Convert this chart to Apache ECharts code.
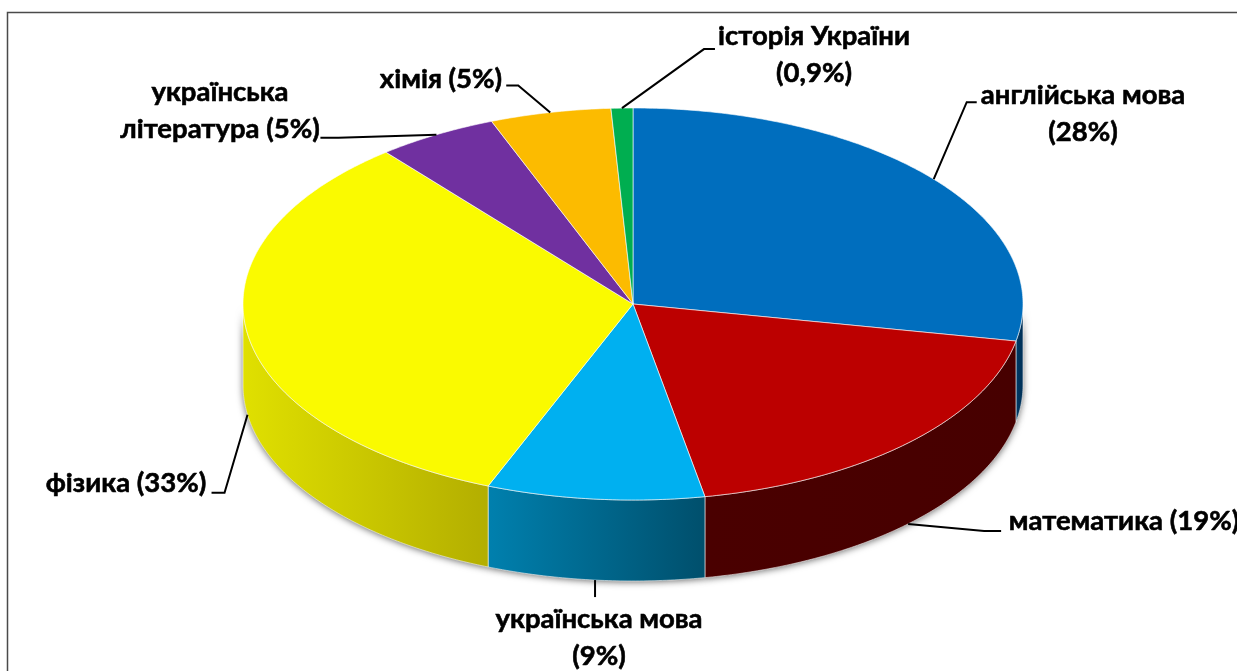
<!DOCTYPE html>
<html>
<head>
<meta charset="utf-8">
<title>pie</title>
<style>
html,body{margin:0;padding:0;background:#fff;}
#main{width:1237px;height:671px;}
</style>
<script src="https://cdn.jsdelivr.net/npm/echarts@6/dist/echarts.min.js"></script>
</head>
<body>
<div id="main"></div>
<script>
// значення зчитані з підписів діаграми
let categories = ['англійська мова','математика','українська мова','фізика','українська література','хімія','історія України'];
let shares = [28,19,9,33,5,5,0.9];
let labelTexts = ['англійська мова\n(28%)','математика (19%)','українська мова\n(9%)','фізика (33%)','українська\nлітература (5%)','хімія (5%)','історія України\n(0,9%)'];

let topColors = ['#006ebe','#bc0000','#00b0f0','#fafa00','#7030a0','#fcbb00','#00ae50'];
let wallColors = [['#003a66','#002f55'],['#4a0000','#470000'],['#0080ae','#004f6c'],['#e0e000','#b3ae00'],['#3c1a56','#3c1a56'],['#8a6600','#8a6600'],['#006030','#006030']];

// геометрія "диска"
const cx = 633, cy = 304, rx = 390, ry = 196, depth = 81;
const FONT = 'Lato, "Noto Sans", sans-serif';

// центр тексту і злам виносної лінії (відносно точки на краю)
let labelPos = [[1083,114],[1124,521],[599,638],[126,483],[220,111],[441,79],[814,55]];
let leaderBends = [
    [[33,-77],[43,-77]],
    [[76,7],[93,7]],
    [[0,17]],
    [[-23,78],[-36,78]],
    [[-98,3],[-116,3]],
    [[-32,-27],[-44,-27]],
    [[82,-59],[93,-59]]
];

let total = shares.reduce((a,b)=>a+b,0);
let starts = [];
let sum = 0;
for(let i=0;i<shares.length;i++){
    starts.push(sum/total*Math.PI*2);
    sum += shares[i];
}
function angleEnd(i){
    return starts[i] + shares[i]/total*Math.PI*2;
}
// кут рахуємо від верху за годинниковою стрілкою
function rim(t,dy){
    return [cx+rx*Math.sin(t), cy-ry*Math.cos(t)+(dy||0)];
}
function arc(a,b,dy){
    let pts = [];
    let n = Math.max(2,Math.ceil(Math.abs(b-a)/0.01));
    for(let k=0;k<=n;k++){
        pts.push(rim(a+(b-a)*k/n,dy));
    }
    return pts;
}
function wallPoints(i){
    // видима лише передня частина стінки
    let a = Math.max(starts[i],Math.PI/2);
    let b = Math.min(angleEnd(i),Math.PI*1.5);
    if(b<=a) return null;
    return arc(a,b,0).concat(arc(b,a,depth));
}
function renderShadow(params,api){
    let pts = wallPoints(params.dataIndex);
    if(!pts) return null;
    return {
        type:'polygon',
        shape:{points:pts},
        style:{fill:'#888',shadowBlur:7,shadowColor:'rgba(0,0,0,0.6)',shadowOffsetY:1}
    };
}
function renderWall(params,api){
    let i = params.dataIndex;
    let pts = wallPoints(i);
    if(!pts) return null;
    return {
        type:'polygon',
        shape:{points:pts},
        style:{
            fill:new echarts.graphic.LinearGradient(0,0,1,0,[
                {offset:0,color:wallColors[i][0]},
                {offset:1,color:wallColors[i][1]}
            ]),
            stroke:'rgba(255,255,255,0.55)',
            lineWidth:1
        }
    };
}
function renderTop(params,api){
    let i = params.dataIndex;
    let pts = [[cx,cy]].concat(arc(starts[i],angleEnd(i),0));
    return {
        type:'polygon',
        shape:{points:pts},
        style:{fill:topColors[i],stroke:'rgba(255,255,255,0.6)',lineWidth:1}
    };
}
function renderLabel(params,api){
    let i = params.dataIndex;
    let mid = (starts[i]+angleEnd(i))/2;
    let front = mid>Math.PI/2 && mid<Math.PI*1.5;
    let p = rim(mid,front?depth:0);
    let line = [p];
    for(let k=0;k<leaderBends[i].length;k++){
        line.push([p[0]+leaderBends[i][k][0],p[1]+leaderBends[i][k][1]]);
    }
    return {
        type:'group',
        children:[
            {type:'polyline',shape:{points:line},style:{fill:null,stroke:'#000',lineWidth:2}},
            {
                type:'text',
                x:labelPos[i][0],
                y:labelPos[i][1],
                style:{
                    text:labelTexts[i],
                    fill:'#000',
                    stroke:'#000',
                    lineWidth:0.6,
                    font:'bold 27.5px '+FONT,
                    lineHeight:37,
                    align:'center',
                    verticalAlign:'middle'
                }
            }
        ]
    };
}
let seriesData = shares.map((v,i)=>({name:categories[i],value:v}));
function layer(name,fn,z){
    return {type:'custom',name:name,coordinateSystem:'none',renderItem:fn,data:seriesData,z:z,silent:true,clip:false};
}
let myChart = echarts.init(document.getElementById('main'),null,{renderer:'canvas'});
let option = {
    animation:false,
    backgroundColor:'#fff',
    graphic:[{
        type:'polyline',
        shape:{points:[[7.5,680],[7.5,12.5],[1245,12.5]]},
        style:{fill:null,stroke:'#4a4a4a',lineWidth:1.5},
        z:0
    }],
    series:[
        layer('shadow',renderShadow,1),
        layer('walls',renderWall,2),
        layer('top',renderTop,3),
        layer('labels',renderLabel,4)
    ]
};
myChart.setOption(option);
</script>
</body>
</html>
